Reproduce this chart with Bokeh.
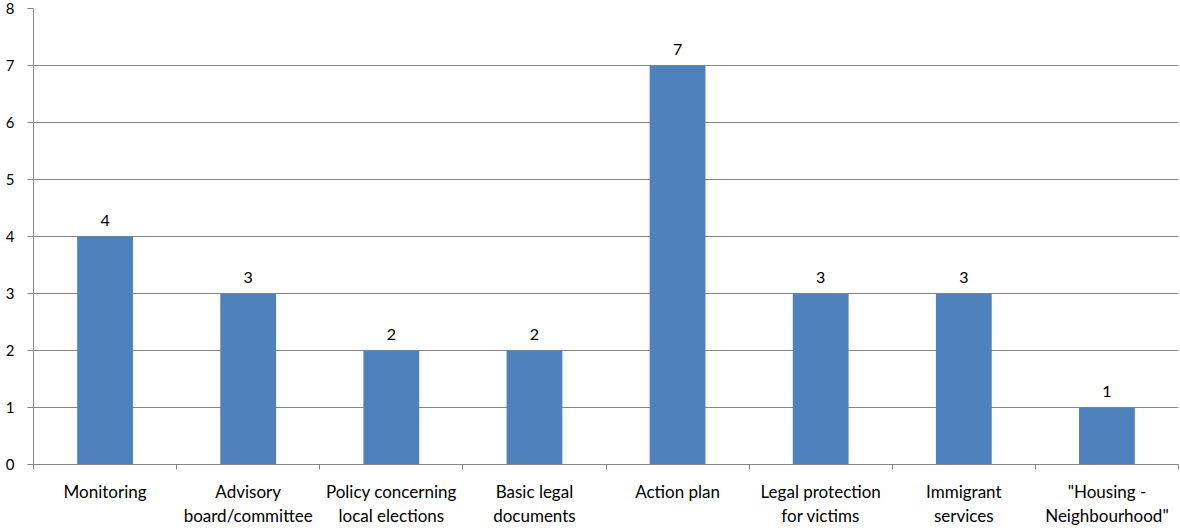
from bokeh.plotting import figure
from bokeh.models import Range1d, FixedTicker, ColumnDataSource, LinearAxis, Grid
from bokeh.core.properties import value
from bokeh.embed import file_html
from bokeh.resources import INLINE

categories = ["Monitoring", "Advisory\nboard/committee", "Policy concerning\nlocal elections",
              "Basic legal\ndocuments", "Action plan", "Legal protection\nfor victims",
              "Immigrant\nservices", "\"Housing -\nNeighbourhood\""]
values = [4, 3, 2, 2, 7, 3, 3, 1]
y_ticks = [0, 1, 2, 3, 4, 5, 6, 7, 8]

FONT = "Lato"
GRID = "#868686"
BAR = "#4F81BD"

n = len(categories)
centers = [i + 0.5 for i in range(n)]
bounds = list(range(n + 1))

src = ColumnDataSource(dict(x=centers, top=values, label=[str(v) for v in values]))

p = figure(width=1180, height=528, output_backend="svg", toolbar_location=None,
           x_range=Range1d(0, n), y_range=Range1d(0, 8),
           min_border_left=33, min_border_right=2, min_border_top=8, min_border_bottom=63,
           x_axis_type=None, y_axis_type=None)
p.outline_line_color = None
p.background_fill_color = "white"
p.border_fill_color = "white"

yticker = FixedTicker(ticks=y_ticks, minor_ticks=[])
yax = LinearAxis(ticker=yticker)
yax.axis_line_color = GRID
yax.major_tick_line_color = GRID
yax.major_tick_in = 0
yax.major_tick_out = 6
yax.minor_tick_line_color = None
yax.major_label_text_font = FONT
yax.major_label_text_font_size = "15px"
yax.major_label_text_color = "#000000"
yax.major_label_standoff = 13
p.add_layout(yax, "left")

xax = LinearAxis(ticker=FixedTicker(ticks=centers, minor_ticks=bounds))
xax.major_label_overrides = {c: lab for c, lab in zip(centers, categories)}
xax.axis_line_color = GRID
xax.major_tick_line_color = None
xax.major_tick_in = 0
xax.major_tick_out = 0
xax.minor_tick_line_color = GRID
xax.minor_tick_in = 0
xax.minor_tick_out = 5
xax.major_label_text_font = FONT
xax.major_label_text_font_size = "17px"
xax.major_label_text_color = "#000000"
xax.major_label_text_line_height = 1.15
xax.major_label_standoff = 11
p.add_layout(xax, "below")

p.add_layout(Grid(dimension=1, ticker=yticker, grid_line_color=GRID, grid_line_width=1))

p.vbar(x="x", top="top", bottom=0, width=0.39, source=src, fill_color=BAR, line_color=None)
p.text(x="x", y="top", text="label", source=src, text_align="center", text_baseline="bottom",
       y_offset=-11, text_font=value(FONT), text_font_size="16px", text_color="#000000")

open("out.html", "w").write(file_html(p, INLINE))
